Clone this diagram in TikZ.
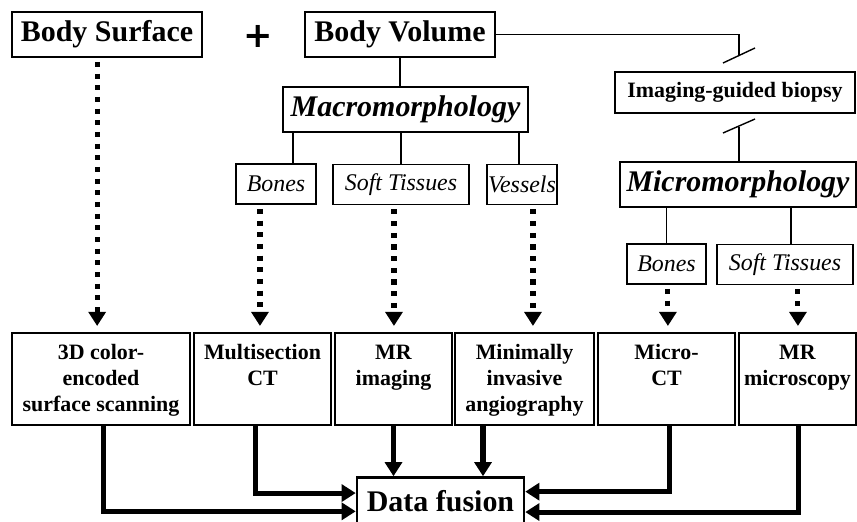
\documentclass[tikz,border=0pt]{standalone}
\usepackage{fontspec}
\setmainfont{Liberation Serif}
\newfontfamily\plusfont{DejaVu Sans}
\usetikzlibrary{arrows.meta,positioning}

\tikzset{
  headbox/.style={draw, line width=1pt, minimum height=1.125cm, inner sep=0pt, font=\fontsize{21.3}{25}\selectfont\bfseries},
  morphbox/.style={headbox, font=\fontsize{21.3}{25}\selectfont\bfseries\itshape},
  tissuebox/.style={draw, line width=1pt, minimum height=1cm, inner sep=0pt, font=\fontsize{17}{20}\selectfont\itshape},
  biopsybox/.style={draw, line width=2pt, minimum height=1.025cm, inner sep=0pt, font=\fontsize{15.6}{18}\selectfont\bfseries},
  methodbox/.style={draw, line width=2pt, minimum height=2.3cm, inner sep=0pt},
  methodtext/.style={inner sep=0pt, align=center, font=\fontsize{15.6}{18.5}\selectfont\bfseries},
  fusionbox/.style={draw, line width=1.8pt, minimum width=4.175cm, minimum height=1.2cm, inner sep=0pt, font=\fontsize{21.3}{25}\selectfont\bfseries},
  link/.style={line width=1pt},
  dotarrow/.style={line width=3.6pt, dash pattern=on 3.6pt off 4.7pt, -{Triangle[width=12pt,length=10pt]}, shorten <=3pt, shorten >=4pt},
  fusearrow/.style={line width=3.6pt, -{Triangle[width=12pt,length=10pt]}}
}

\begin{document}
\begin{tikzpicture}[x=0.025cm,y=-0.025cm]
\useasboundingbox (0,0) rectangle (857,521);

% top row
\node[headbox, minimum width=4.75cm] (bsurf) at (107,34.5) {Body Surface};
\node[font=\plusfont\bfseries\fontsize{25}{25}\selectfont, inner sep=0pt] (plus) at (258,36) {+};
\node[headbox, minimum width=4.75cm] (bvol) at (400,34.5) {Body Volume};

\node[morphbox, minimum width=6.125cm] (macro) at (405.5,109.5) {Macromorphology};
\node[biopsybox, minimum width=6cm] (biopsy) at (735,92.5) {Imaging-guided biopsy};
\node[morphbox, minimum width=5.9cm] (micro) at (738,184.5) {Micromorphology};

% tissues
\node[tissuebox, minimum width=2cm] (mbones) at (276,184) {Bones};
\node[tissuebox, minimum width=3.4cm] (msoft) at (401,184.5) {Soft Tissues};
\node[tissuebox, minimum width=1.75cm] (mvessels) at (522,184.5) {Vessels};
\node[tissuebox, minimum width=1.975cm] (ubones) at (666.5,264) {Bones};
\node[tissuebox, minimum width=3.4cm] (usoft) at (785,264.5) {Soft Tissues};

% methods
\node[methodbox, minimum width=4.45cm] (scan) at (101,379) {};
\node[methodbox, minimum width=3.425cm] (msct) at (262.5,379) {};
\node[methodbox, minimum width=2.925cm] (mri) at (393.5,379) {};
\node[methodbox, minimum width=3.475cm] (angio) at (524.5,379) {};
\node[methodbox, minimum width=3.425cm] (microct) at (666.5,379) {};
\node[methodbox, minimum width=2.925cm] (mrmicro) at (797.5,379) {};

\node[methodtext, below=0.32cm of scan.north] (scantext) {3D color-\\encoded\\surface scanning};
\node[methodtext, below=0.32cm of msct.north] (mscttext) {Multisection\\CT};
\node[methodtext, below=0.32cm of mri.north] (mritext) {MR\\imaging};
\node[methodtext, below=0.32cm of angio.north] (angiotext) {Minimally\\invasive\\angiography};
\node[methodtext, below=0.32cm of microct.north] (microcttext) {Micro-\\CT};
\node[methodtext, below=0.32cm of mrmicro.north] (mrmicrotext) {MR\\microscopy};

\node[fusionbox] (fusion) at (440.5,501.5) {Data fusion};

% thin links
\coordinate (cut1) at (739,55);
\coordinate (cut2) at (739,127);
\draw[link] (bvol.south) -- (bvol.south |- macro.north);
\draw[link] (bvol.east) -| (cut1);
\draw[link] (cut1) ++(-16,8) -- ++(32,-15);
\draw[link] (cut2) ++(-16,6) -- ++(32,-14);
\draw[link] (cut2) -- (cut2 |- micro.north);
\draw[link] ([xshift=12pt]mbones.north |- macro.south) -- ([xshift=12pt]mbones.north);
\draw[link] (msoft.north |- macro.south) -- (msoft.north);
\draw[link] ([xshift=-2pt]mvessels.north |- macro.south) -- ([xshift=-2pt]mvessels.north);
\draw[link] (ubones.north |- micro.south) -- (ubones.north);
\draw[link] ([xshift=4.3pt]usoft.north |- micro.south) -- ([xshift=4.3pt]usoft.north);

% dotted arrows
\draw[dotarrow] ([xshift=-7pt]bsurf.south) -- ([xshift=-7pt]bsurf.south |- scan.north);
\draw[dotarrow] ([xshift=-11.4pt]mbones.south) -- ([xshift=-11.4pt]mbones.south |- msct.north);
\draw[dotarrow] ([xshift=-5pt]msoft.south) -- ([xshift=-5pt]msoft.south |- mri.north);
\draw[dotarrow] ([xshift=7.8pt]mvessels.south) -- ([xshift=7.8pt]mvessels.south |- angio.north);
\draw[dotarrow] ([xshift=1pt]ubones.south) -- ([xshift=1pt]ubones.south |- microct.north);
\draw[dotarrow] ([xshift=9.2pt]usoft.south) -- ([xshift=9.2pt]usoft.south |- mrmicro.north);

% into fusion
\draw[fusearrow] ([xshift=2pt]scan.south) |- ([yshift=-7pt]fusion.west);
\draw[fusearrow] ([xshift=-5.3pt]msct.south) |- ([yshift=6pt]fusion.west);
\draw[fusearrow] (mri.south) -- (mri.south |- fusion.north);
\draw[fusearrow] ([xshift=-29.5pt]angio.south) -- ([xshift=-29.5pt]angio.south |- fusion.north);
\draw[fusearrow] ([xshift=1.8pt]microct.south) |- ([yshift=7pt]fusion.east);
\draw[fusearrow] ([xshift=1pt]mrmicro.south) |- ([yshift=-7.5pt]fusion.east);

\end{tikzpicture}
\end{document}
